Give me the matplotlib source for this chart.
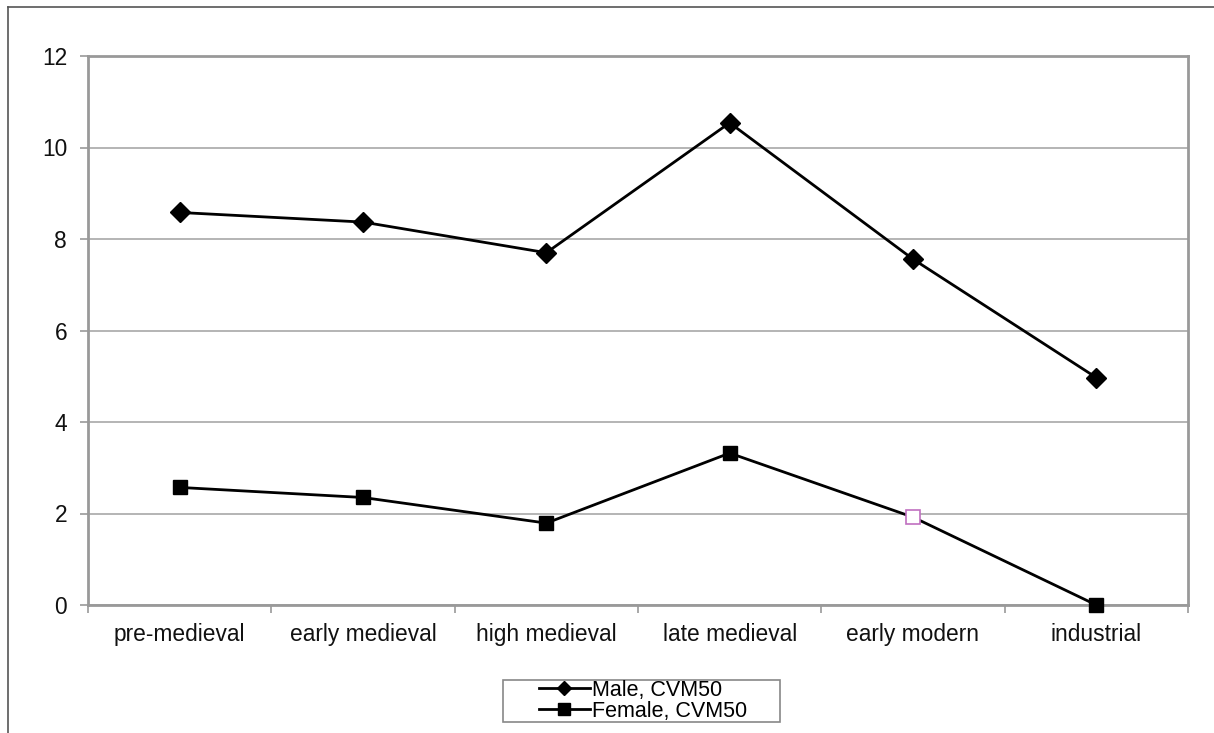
import matplotlib
matplotlib.use("Agg")
import matplotlib.pyplot as plt
from matplotlib.lines import Line2D
from matplotlib.patches import Rectangle
import numpy as np

categories = ["pre-medieval", "early medieval", "high medieval", "late medieval", "early modern", "industrial"]
male = [8.58, 8.37, 7.70, 10.54, 7.56, 4.97]
female = [2.57, 2.35, 1.79, 3.32, 1.92, 0.0]
yticks = [0, 2, 4, 6, 8, 10, 12]

plt.rcParams['font.family'] = ['Liberation Sans', 'DejaVu Sans']

W, H = 1214, 733
fig = plt.figure(figsize=(W/100, H/100), dpi=100)
ax = fig.add_axes([88/W, 1-605/H, (1188-88)/W, (605-56)/H])

x = np.arange(len(categories))
ax.plot(x, male, color='black', lw=2, marker='D', ms=10, mfc='black', mec='black', zorder=3)
idx_f = [i for i in range(len(x)) if i != 4]
ax.plot(x, female, color='black', lw=2, marker='s', ms=9.5, mfc='black', mec='black',
        markevery=idx_f, zorder=3, clip_on=False)
ax.plot([x[4]], [female[4]], linestyle='none', marker='s', ms=9.5, mfc='white', mec='#c070c0', mew=1.2, zorder=4)

ax.set_xlim(-0.5, len(categories) - 0.5)
ax.set_ylim(0, 12)
ax.set_yticks(yticks)
ax.set_yticklabels([str(v) for v in yticks], fontsize=16.4, color='#111111')
ax.set_xticks(x)
ax.set_xticklabels(categories, fontsize=16.4, color='#111111')
ax.tick_params(axis='x', which='major', length=0, pad=13)
ax.set_xticks(np.arange(-0.5, len(categories)), minor=True)
ax.tick_params(axis='x', which='minor', length=6, color='#999999', width=1.2, direction='out')
ax.tick_params(axis='y', length=6, color='#999999', width=1.2, pad=9, direction='out')
ax.grid(axis='y', color='#a8a8a8', lw=1.2)
ax.set_axisbelow(True)
for s in ax.spines.values():
    s.set_color('#999999')
    s.set_linewidth(2)

handles = [Line2D([], [], color='black', lw=2, marker='D', ms=7),
           Line2D([], [], color='black', lw=2, marker='s', ms=8.5)]
leg = fig.legend(handles, ["Male, CVM50", "Female, CVM50"], loc='center',
                 bbox_to_anchor=(643/W, 1-701/H), fontsize=15.5, frameon=False,
                 handlelength=2.4, handletextpad=0.1, borderpad=0.0, labelspacing=0.0,
                 borderaxespad=0)
fig.add_artist(Rectangle((503/W, 1-722/H), (780-503)/W, (722-680)/H, transform=fig.transFigure,
                         fill=False, edgecolor='#888888', lw=1.2))

# outer frame (left and top edges)
fig.add_artist(Line2D([8/W, 8/W], [0, 1-7/H], color='#555555', lw=1.2, transform=fig.transFigure))
fig.add_artist(Line2D([8/W, 1], [1-7/H, 1-7/H], color='#555555', lw=1.2, transform=fig.transFigure))

fig.savefig("out.png", dpi=100)
